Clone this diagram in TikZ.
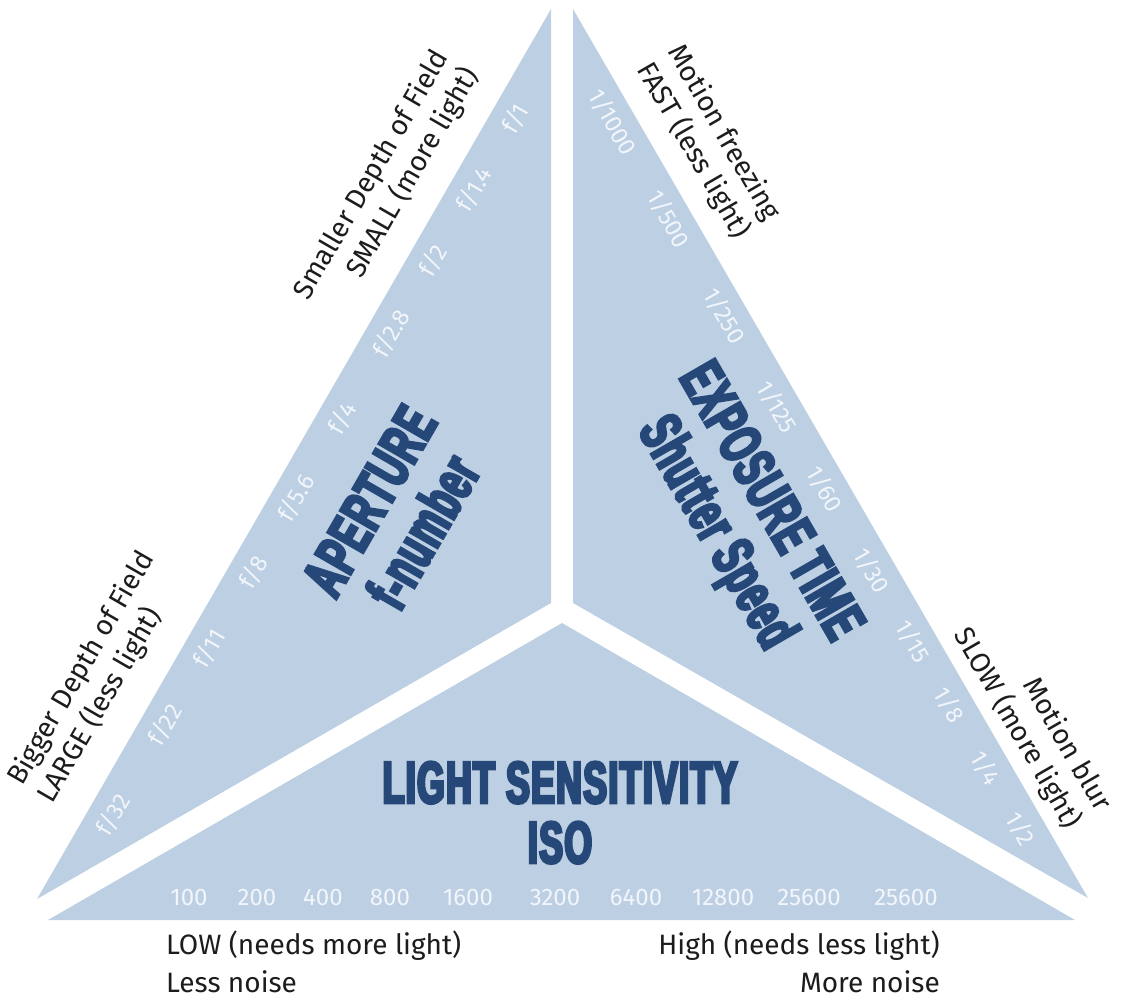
\documentclass[tikz,border=0pt]{standalone}
\usepackage{fontspec}
\setmainfont{Fira Sans}
\newfontfamily\headfont[FakeStretch=0.6,FakeBold=5,LetterSpace=2.5]{Liberation Sans}

\definecolor{trifill}{RGB}{188,207,227}
\definecolor{headblue}{RGB}{38,72,120}
\definecolor{scaletext}{RGB}{242,246,251}
\definecolor{sidetext}{RGB}{28,28,28}

\tikzset{
  head/.style={font=\headfont\bfseries\fontsize{59}{62}\selectfont, text=headblue, align=center, inner sep=0pt},
  scalelabel/.style={font=\fontsize{24}{24}\selectfont, text=scaletext, inner sep=0pt},
  sidelabel/.style={font=\fontsize{28}{35}\selectfont, text=sidetext, inner sep=0pt},
  baselabel/.style={font=\fontsize{28}{38}\selectfont, text=sidetext, inner sep=0pt},
}

\begin{document}
\begin{tikzpicture}[x=1pt,y=-1pt]
\useasboundingbox (0,0) rectangle (1122,999);

% three wedges of the exposure triangle
\fill[trifill] (551,9) -- (37,899) -- (551,603) -- cycle;
\fill[trifill] (573,9) -- (573,603) -- (1088,898) -- cycle;
\fill[trifill] (48,920) -- (562,623) -- (1075,920) -- cycle;

% wedge titles
\node[head, rotate=60] (aperture) at (396.5,516.5) {APERTURE\\f-number};
\node[head, rotate=-60] (exposure) at (741,518.5) {EXPOSURE TIME\\Shutter Speed};
\node[head, anchor=base] (sensitivity) at (560,803) {LIGHT SENSITIVITY};
\node[head, anchor=base] (iso) at (560,863) {ISO};

% f-stops along the left edge
\foreach \t/\n [count=\k] in {155/1, 73/1.4, -9/2, -93/2.8, -191/4, -283/5.6, -369/8, -457/11, -545/22, -649/32}
  \node[scalelabel, rotate=60] (fstop\k) at ({0.5*\t+0.866*505.5},{-0.866*\t+0.5*505.5}) {f/\n};

% shutter times along the right edge
\foreach \s/\n [count=\k] in {412/1000, 524/500, 636/250, 741/125, 836/60, 930/30, 1012/15, 1085/8, 1158/4, 1228/2}
  \node[scalelabel, rotate=-60] (shutter\k) at ({0.5*\s+406.6},{0.866*\s-234.75}) {1/\n};

% ISO values along the base
\foreach \x/\n [count=\k] in {189/100, 257/200, 323/400, 390/800, 468/1600, 555/3200, 636/6400, 723/12800, 809/25600, 906/25600}
  \node[scalelabel] (isoval\k) at (\x,897) {\n};

% captions outside the triangle
\node[sidelabel, rotate=60, align=right] (smalldof) at (387,184) {Smaller Depth of Field\\SMALL (more light)};
\node[sidelabel, rotate=60, align=left] (bigdof) at (97,677) {Bigger Depth of Field\\LARGE (less light)};
\node[sidelabel, rotate=-60, align=left] (fast) at (708,142) {Motion freezing\\FAST (less light)};
\node[sidelabel, rotate=-60, align=right] (slow) at (1032,720) {Motion blur\\SLOW (more light)};
\node[baselabel, anchor=north west, align=left] (low) at (166,931) {LOW (needs more light)\\Less noise};
\node[baselabel, anchor=north east, align=right] (high) at (940,931) {High (needs less light)\\More noise};
\end{tikzpicture}
\end{document}
